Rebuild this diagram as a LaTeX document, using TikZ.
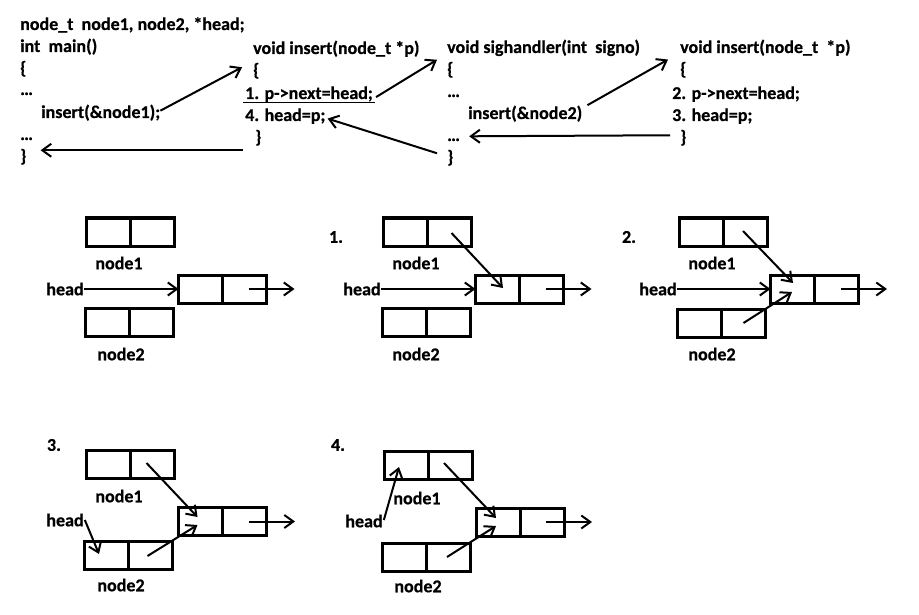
\documentclass[tikz,border=0pt]{standalone}
\usepackage{fontspec}
\setmainfont{Carlito}[BoldFeatures={FakeBold=0.6}]
\usetikzlibrary{arrows.meta,calc}
\newcommand\mkbox[3]{%
  \node[cell,anchor=east] (#1L) at (#2,#3) {};
  \node[cell,anchor=west] (#1R) at (#2,#3) {};}
\begin{document}
\begin{tikzpicture}[x=1pt,y=-1pt,
  code/.style={anchor=base west,inner sep=0pt,font=\fontsize{18}{22}\selectfont\bfseries},
  lbl/.style={inner sep=0pt,font=\fontsize{18}{22}\selectfont\bfseries},
  cell/.style={draw,line width=3pt,minimum width=44pt,minimum height=28pt,inner sep=0pt,outer sep=0pt},
  arr/.style={line width=2pt,-{Straight Barb[length=9pt,width=13pt,line width=2pt]}}]
\useasboundingbox (0,0) rectangle (919,615);
% ---- code column 1
\node[code] (t1) at (20,30) {node\_t\ \ node1, node2, *head;};
\node[code] (t2) at (20,52) {int\ \ main()};
\node[code] (t3) at (20,74) {\{};
\node[code] (t4) at (20,95) {…};
\node[code] (t5) at (41,118) {insert(\&node1);};
\node[code] (t6) at (20,140) {…};
\node[code] (t7) at (20,162) {\}};
% ---- code column 2
\node[code] (u1) at (253,54) {void insert(node\_t *p)};
\node[code] (u2) at (253,76) {\{};
\node[code] (u3) at (245,99) {1. p->next=head;};
\node[code] (u4) at (245,121) {4. head=p;};
\node[code] (u5) at (255,143) {\}};
\draw[line width=1.8pt] ($(u3.base west)+(-2,3.5)$) -- ($(u3.base east)+(2,3.5)$);
% ---- code column 3
\node[code] (v1) at (447,53) {void sighandler(int\ \ signo)};
\node[code] (v2) at (447,75) {\{};
\node[code] (v3) at (447,97) {…};
\node[code] (v4) at (468,119) {insert(\&node2)};
\node[code] (v5) at (447,141) {…};
\node[code] (v6) at (447,163) {\}};
% ---- code column 4
\node[code] (w1) at (680,53) {void insert(node\_t\ \ *p)};
\node[code] (w2) at (680,75) {\{};
\node[code] (w3) at (672,99) {2. p->next=head;};
\node[code] (w4) at (672,121) {3. head=p;};
\node[code] (w5) at (680,143) {\}};
% ---- code arrows
\draw[arr] ($(t5.east)+(0,-2)$) -- ($(u2.west)+(-11,-3.5)$);
\draw[arr] ($(u5.west)+(-12,12.5)$) -- ($(t7.east)+(14,-6.5)$);
\draw[arr] ($(u3.east)+(3,3)$) -- ($(v1.south west)+(-10,3.5)$);
\draw[arr] ($(v6.west)+(-10,-4.5)$) -- ($(u4.east)+(2,2.5)$);
\draw[arr] ($(v4.east)+(5,-8.5)$) -- ($(w1.south west)+(-12,3.5)$);
\draw[arr] ($(w5.west)+(-10,-2.5)$) -- ($(v5.east)+(9,-3.5)$);
% ---- panel 0
\mkbox{aA}{130.5}{232}
\mkbox{aB}{222.5}{289}
\mkbox{aC}{129}{322.5}
\node[lbl] (aAl) at (119,263) {node1};
\node[lbl] (aCl) at (121,354) {node2};
\node[lbl] (ah) at (65,289) {head};
\draw[arr] (ah.east) -- (aBL.west);
\draw[arr] ($(aBR.center)+(4,0)$) -- ++(46,0);
% ---- panel 1
\node[lbl] (bn) at (336,237) {1.};
\mkbox{bA}{427.5}{232}
\mkbox{bB}{519.5}{289}
\mkbox{bC}{426.5}{322.5}
\node[lbl] (bAl) at (416,263) {node1};
\node[lbl] (bCl) at (416,354) {node2};
\node[lbl] (bh) at (362,289) {head};
\draw[arr] (bh.east) -- (bBL.west);
\draw[arr] ($(bAR.center)+(2,1)$) -- ($(bBL.center)+(5.5,-1)$);
\draw[arr] ($(bBR.center)+(4,0)$) -- ++(46,0);
% ---- panel 2
\node[lbl] (cn) at (629,237) {2.};
\mkbox{cA}{723}{232}
\mkbox{cB}{814.5}{289}
\mkbox{cC}{721.5}{323}
\node[lbl] (cAl) at (712,263) {node1};
\node[lbl] (cCl) at (712,354) {node2};
\node[lbl] (ch) at (658,289) {head};
\draw[arr] (ch.east) -- (cBL.west);
\draw[arr] ($(cAR.center)+(-2,-1)$) -- ($(cBL.center)+(0.5,-6)$);
\draw[arr] ($(cCR.center)+(0,0)$) -- ($(cBL.center)+(-0.5,3)$);
\draw[arr] ($(cBR.center)+(4.5,0)$) -- ++(46,0);
% ---- panel 3
\node[lbl] (dn) at (54,445) {3.};
\mkbox{dA}{130.5}{464}
\mkbox{dB}{222.5}{521.5}
\mkbox{dC}{128.5}{555}
\node[lbl] (dAl) at (119,496) {node1};
\node[lbl] (dCl) at (121,585) {node2};
\node[lbl] (dh) at (65,520) {head};
\draw[arr] ($(dh.east)+(1,0)$) -- ($(dCL.center)+(-7.5,-1)$);
\draw[arr] ($(dAR.center)+(-6,-1)$) -- ($(dBL.center)+(-3,-4.5)$);
\draw[arr] ($(dCR.center)+(-3,1)$) -- ($(dBL.center)+(-3,3.5)$);
\draw[arr] ($(dBR.center)+(4.5,0)$) -- ++(46,0);
% ---- panel 4
\node[lbl] (en) at (338,445) {4.};
\mkbox{eA}{428.5}{465.5}
\mkbox{eB}{520}{522}
\mkbox{eC}{426.5}{557}
\node[lbl] (eAl) at (417,498) {node1};
\node[lbl] (eCl) at (418,586) {node2};
\node[lbl] (eh) at (364,521) {head};
\draw[arr] ($(eh.east)+(1,-1)$) -- ($(eAL.center)+(-7.5,1.5)$);
\draw[arr] ($(eAR.center)+(-6.5,-2.5)$) -- ($(eBL.center)+(-2,-4)$);
\draw[arr] ($(eCR.center)+(-1.5,0)$) -- ($(eBL.center)+(-2,4)$);
\draw[arr] ($(eBR.center)+(4,0)$) -- ++(46,0);
\end{tikzpicture}
\end{document}
